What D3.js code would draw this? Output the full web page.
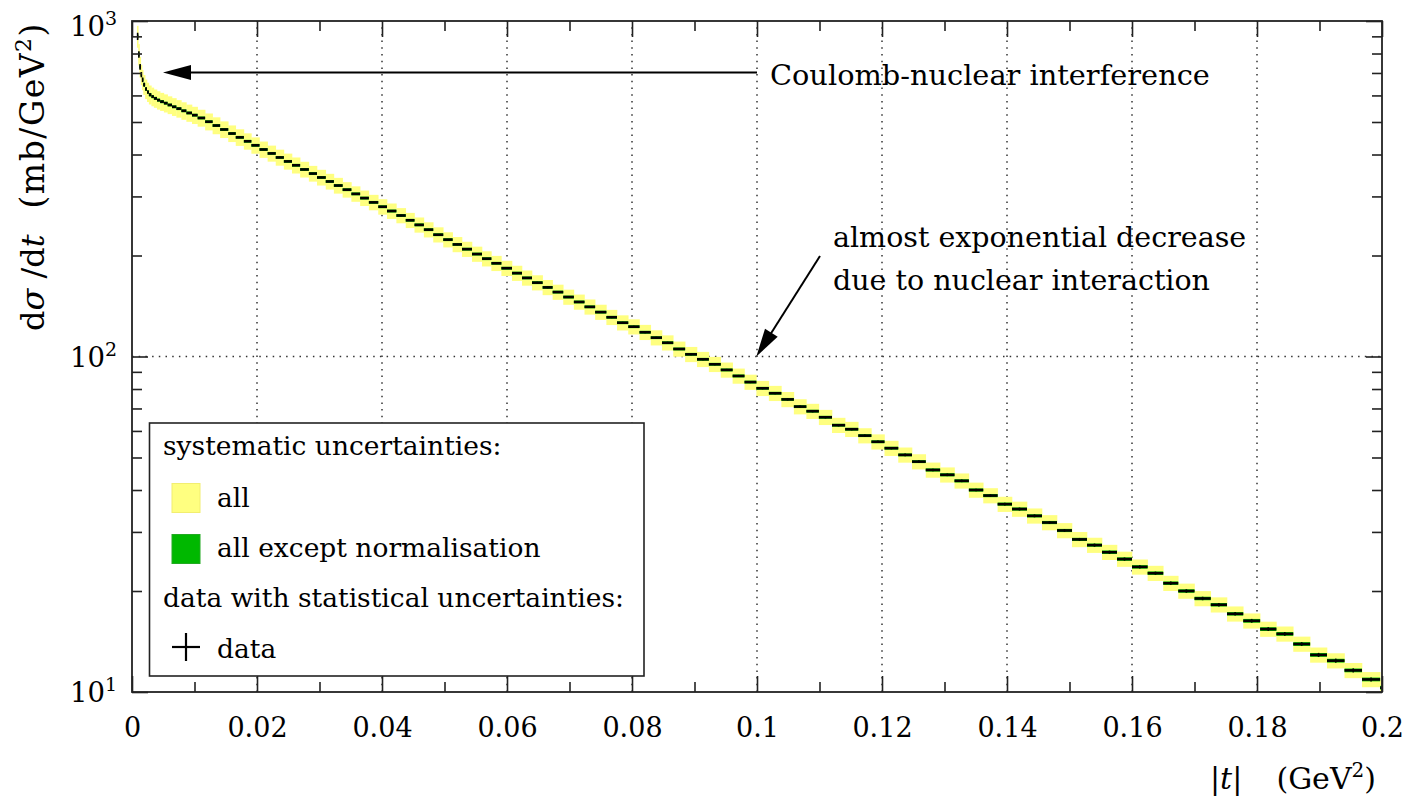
<!DOCTYPE html>
<html>
<head>
<meta charset="utf-8">
<script src="https://cdn.jsdelivr.net/npm/d3@7"></script>
<style>
  body { margin: 0; background: #fff; }
  text { font-family: "DejaVu Serif", serif; fill: #000; }
</style>
</head>
<body>
<svg id="chart" width="1412" height="801"></svg>
<script>
// bin edges in |t| (GeV^2)
var tEdges = [
  0.0008, 0.0010, 0.0012, 0.0014, 0.0016, 0.0018, 0.0021, 0.0024, 0.0027, 0.0031,
  0.0035, 0.0040, 0.0045, 0.0051, 0.0057, 0.0064, 0.0071, 0.0079, 0.0087, 0.0096,
  0.0105, 0.0117, 0.0129, 0.0141, 0.0154, 0.0166, 0.0179, 0.0191, 0.0204, 0.0217,
  0.0230, 0.0243, 0.0256, 0.0269, 0.0283, 0.0296, 0.0310, 0.0323, 0.0337, 0.0351,
  0.0365, 0.0379, 0.0394, 0.0408, 0.0423, 0.0438, 0.0452, 0.0467, 0.0482, 0.0498,
  0.0513, 0.0528, 0.0544, 0.0560, 0.0575, 0.0591, 0.0608, 0.0624, 0.0640, 0.0657,
  0.0673, 0.0690, 0.0707, 0.0724, 0.0741, 0.0759, 0.0776, 0.0794, 0.0812, 0.0830,
  0.0848, 0.0866, 0.0885, 0.0904, 0.0923, 0.0942, 0.0961, 0.0980, 0.0999, 0.1019,
  0.1039, 0.1059, 0.1079, 0.1099, 0.1120, 0.1141, 0.1162, 0.1183, 0.1204, 0.1226,
  0.1248, 0.1270, 0.1293, 0.1316, 0.1339, 0.1362, 0.1385, 0.1408, 0.1432, 0.1456,
  0.1480, 0.1504, 0.1528, 0.1552, 0.1576, 0.1600, 0.1625, 0.1650, 0.1674, 0.1700,
  0.1726, 0.1752, 0.1778, 0.1805, 0.1831, 0.1858, 0.1885, 0.1912, 0.1940, 0.1968,
  0.1997, 0.2025
];

// d sigma / dt per bin (mb/GeV^2)
var dsdt = [
  900, 795, 730, 692, 668, 646, 627, 614, 603, 595,
  588, 581, 575, 569, 562, 555, 548, 540, 532, 524,
  514, 501, 488, 475, 462, 450, 438, 426, 414, 403,
  392, 381.5, 371.5, 361, 351, 341.7, 332.4, 323.3, 314.2, 305.3,
  296.6, 288.0, 279.5, 271.4, 263.2, 254.7, 246.8, 238.8, 230.7, 223.0,
  215.8, 208.9, 202.0, 195.7, 189.6, 183.3, 177.2, 171.5, 166.0, 160.7,
  155.6, 150.4, 145.4, 140.6, 135.6, 130.9, 126.1, 122.7, 118.1, 113.8,
  109.9, 105.3, 101.5, 98.1, 94.8, 91.2, 87.5, 83.9, 80.4, 77.7,
  74.5, 70.9, 68.7, 65.9, 62.4, 60.7, 58.1, 55.7, 53.3, 50.9,
  48.6, 45.9, 44.4, 42.6, 40.0, 38.5, 36.3, 35.1, 33.5, 32.0,
  30.3, 28.5, 27.4, 26.1, 24.9, 23.6, 22.6, 21.1, 20.0, 19.0,
  18.2, 17.1, 16.3, 15.4, 14.9, 13.9, 12.9, 12.4, 11.6, 10.9,
  10.3
];

// systematic uncertainty, all contributions (%)
var sysAll = [
  7.5, 7.3, 7.1, 7.0, 6.9, 6.8, 6.7, 6.6, 6.5, 6.4,
  6.3, 6.3, 6.2, 6.2, 6.1, 6.1, 6.0, 6.0, 5.9, 5.9,
  5.8, 5.8, 5.8, 5.7, 5.7, 5.7, 5.6, 5.6, 5.6, 5.5,
  5.5, 5.5, 5.5, 5.4, 5.4, 5.4, 5.4, 5.4, 5.3, 5.3,
  5.3, 5.3, 5.3, 5.3, 5.2, 5.2, 5.2, 5.2, 5.2, 5.2,
  5.2, 5.2, 5.2, 5.2, 5.2, 5.2, 5.2, 5.2, 5.2, 5.2,
  5.2, 5.2, 5.2, 5.2, 5.2, 5.2, 5.2, 5.2, 5.2, 5.2,
  5.2, 5.2, 5.2, 5.2, 5.2, 5.2, 5.2, 5.2, 5.2, 5.2,
  5.2, 5.2, 5.2, 5.2, 5.2, 5.2, 5.2, 5.2, 5.2, 5.2,
  5.2, 5.2, 5.2, 5.2, 5.2, 5.2, 5.2, 5.2, 5.2, 5.2,
  5.2, 5.2, 5.2, 5.2, 5.2, 5.2, 5.2, 5.2, 5.2, 5.2,
  5.2, 5.2, 5.2, 5.2, 5.2, 5.2, 5.2, 5.2, 5.2, 5.2,
  5.2
];

// systematic uncertainty without normalisation (%)
var sysNoNorm = [
  1.6, 1.5, 1.4, 1.4, 1.3, 1.3, 1.2, 1.2, 1.2, 1.1,
  1.1, 1.1, 1.1, 1.0, 1.0, 1.0, 1.0, 1.0, 1.0, 1.0,
  1.0, 1.0, 1.0, 1.0, 1.0, 1.0, 1.0, 1.0, 1.0, 1.0,
  1.0, 1.0, 1.0, 1.0, 1.0, 1.0, 1.0, 1.0, 1.0, 1.0,
  1.0, 1.0, 1.0, 1.0, 1.0, 1.0, 1.0, 1.0, 1.0, 1.0,
  1.0, 1.0, 1.0, 1.0, 1.0, 1.0, 1.0, 1.0, 1.0, 1.0,
  1.0, 1.0, 1.0, 1.0, 1.0, 1.0, 1.0, 1.0, 1.0, 1.0,
  1.0, 1.0, 1.0, 1.0, 1.0, 1.0, 1.0, 1.0, 1.0, 1.0,
  1.0, 1.0, 1.0, 1.0, 1.0, 1.0, 1.0, 1.0, 1.0, 1.0,
  1.0, 1.1, 1.1, 1.1, 1.1, 1.1, 1.1, 1.1, 1.1, 1.1,
  1.1, 1.1, 1.1, 1.2, 1.2, 1.2, 1.2, 1.2, 1.2, 1.2,
  1.2, 1.2, 1.3, 1.3, 1.3, 1.3, 1.3, 1.3, 1.3, 1.3,
  1.3
];

// statistical uncertainty (%)
var statRel = [
  2.5, 2.2, 2.0, 1.8, 1.6, 1.4, 1.2, 1.1, 1.0, 0.9,
  0.8, 0.7, 0.6, 0.6, 0.5, 0.5, 0.5, 0.5, 0.5, 0.5,
  0.4, 0.4, 0.4, 0.4, 0.4, 0.4, 0.4, 0.4, 0.4, 0.4,
  0.4, 0.4, 0.4, 0.4, 0.4, 0.4, 0.4, 0.4, 0.4, 0.4,
  0.4, 0.4, 0.4, 0.4, 0.5, 0.5, 0.5, 0.5, 0.5, 0.5,
  0.5, 0.5, 0.5, 0.5, 0.5, 0.5, 0.5, 0.5, 0.6, 0.6,
  0.6, 0.6, 0.6, 0.6, 0.6, 0.6, 0.6, 0.6, 0.6, 0.6,
  0.7, 0.7, 0.7, 0.7, 0.7, 0.7, 0.7, 0.7, 0.7, 0.7,
  0.8, 0.8, 0.8, 0.8, 0.8, 0.8, 0.8, 0.8, 0.8, 0.9,
  0.9, 0.9, 0.9, 0.9, 0.9, 0.9, 1.0, 1.0, 1.0, 1.0,
  1.0, 1.0, 1.1, 1.1, 1.1, 1.1, 1.1, 1.2, 1.2, 1.2,
  1.2, 1.2, 1.3, 1.3, 1.3, 1.3, 1.4, 1.4, 1.4, 1.4,
  1.5
];

// axis ticks
var xTicks = [0, 0.02, 0.04, 0.06, 0.08, 0.1, 0.12, 0.14, 0.16, 0.18, 0.2];
var xTickLabels = ["0", "0.02", "0.04", "0.06", "0.08", "0.1", "0.12", "0.14", "0.16", "0.18", "0.2"];
var xMinor = [0.01, 0.03, 0.05, 0.07, 0.09, 0.11, 0.13, 0.15, 0.17, 0.19];
var xGrid = [0.02, 0.04, 0.06, 0.08, 0.1, 0.12, 0.14, 0.16, 0.18];
var yTicks = [10, 100, 1000];
var yTickExp = ["1", "2", "3"];
var yMinor = [20, 30, 40, 50, 60, 70, 80, 90, 200, 300, 400, 500, 600, 700, 800, 900];
var yGrid = [100];

var svg = d3.select("#chart");
var x = d3.scaleLinear().domain([0, 0.2]).range([132, 1382]);
var y = d3.scaleLog().domain([10, 1000]).range([692, 21]);

var bins = dsdt.map(function (v, i) {
  return { lo: tEdges[i], hi: tEdges[i + 1], v: v,
           sa: sysAll[i] / 100, sn: sysNoNorm[i] / 100, st: statRel[i] / 100 };
});

svg.append("defs").append("clipPath").attr("id", "clip")
  .append("rect").attr("x", 132).attr("y", 21).attr("width", 1250).attr("height", 671);

// dotted grid
var grid = svg.append("g").attr("stroke", "#333").attr("stroke-width", 1.5)
  .attr("stroke-dasharray", "1.5,5.2");
grid.selectAll("line.gx").data(xGrid).enter().append("line")
  .attr("x1", function (d) { return x(d); }).attr("x2", function (d) { return x(d); })
  .attr("y1", 692).attr("y2", 21);
grid.selectAll("line.gy").data(yGrid).enter().append("line")
  .attr("y1", function (d) { return y(d); }).attr("y2", function (d) { return y(d); })
  .attr("x1", 132).attr("x2", 1382);

var plot = svg.append("g").attr("clip-path", "url(#clip)");

// yellow: all systematics
plot.selectAll("rect.all").data(bins).enter().append("rect")
  .attr("x", function (d) { return x(d.lo); })
  .attr("width", function (d) { return x(d.hi) - x(d.lo) + 0.3; })
  .attr("y", function (d) { return y(d.v * (1 + d.sa)); })
  .attr("height", function (d) { return y(d.v * (1 - d.sa)) - y(d.v * (1 + d.sa)); })
  .attr("fill", "#ffff80");

// green: all except normalisation
plot.selectAll("rect.nonorm").data(bins).enter().append("rect")
  .attr("x", function (d) { return x(d.lo); })
  .attr("width", function (d) { return x(d.hi) - x(d.lo); })
  .attr("y", function (d) { return y(d.v * (1 + d.sn)); })
  .attr("height", function (d) { return y(d.v * (1 - d.sn)) - y(d.v * (1 + d.sn)); })
  .attr("fill", "#00b800");

// data: bin width + statistical error
plot.selectAll("line.h").data(bins).enter().append("line")
  .attr("x1", function (d) { return x(d.lo); })
  .attr("x2", function (d) { return x(d.hi); })
  .attr("y1", function (d) { return y(d.v); })
  .attr("y2", function (d) { return y(d.v); })
  .attr("stroke", "#000").attr("stroke-width", 2.6);
plot.selectAll("line.v").data(bins).enter().append("line")
  .attr("x1", function (d) { return x((d.lo + d.hi) / 2); })
  .attr("x2", function (d) { return x((d.lo + d.hi) / 2); })
  .attr("y1", function (d) { return y(d.v * (1 + d.st)); })
  .attr("y2", function (d) { return y(d.v * (1 - d.st)); })
  .attr("stroke", "#000").attr("stroke-width", 1.6);

// axes, ticks pointing inwards
function styleAxis(g) {
  g.select(".domain").remove();
  g.selectAll(".tick line").attr("stroke", "#222").attr("stroke-width", 1.6);
  g.selectAll("text").style("font-size", "27px").style("font-family", "DejaVu Serif");
}
svg.append("g").attr("transform", "translate(0,692)")
  .call(d3.axisBottom(x).tickValues(xTicks).tickSize(-16).tickPadding(26)
    .tickFormat(function (d, i) { return xTickLabels[i]; }))
  .call(styleAxis);
svg.append("g").attr("transform", "translate(0,692)")
  .call(d3.axisBottom(x).tickValues(xMinor).tickSize(-10).tickFormat(""))
  .call(styleAxis);
svg.append("g").attr("transform", "translate(0,21)")
  .call(d3.axisTop(x).tickValues(xTicks).tickSize(-16).tickFormat(""))
  .call(styleAxis);
svg.append("g").attr("transform", "translate(0,21)")
  .call(d3.axisTop(x).tickValues(xMinor).tickSize(-10).tickFormat(""))
  .call(styleAxis);
svg.append("g").attr("transform", "translate(132,0)")
  .call(d3.axisLeft(y).tickValues(yTicks).tickSize(-16).tickFormat(""))
  .call(styleAxis);
svg.append("g").attr("transform", "translate(132,0)")
  .call(d3.axisLeft(y).tickValues(yMinor).tickSize(-10).tickFormat(""))
  .call(styleAxis);
svg.append("g").attr("transform", "translate(1382,0)")
  .call(d3.axisRight(y).tickValues(yTicks).tickSize(-16).tickFormat(""))
  .call(styleAxis);
svg.append("g").attr("transform", "translate(1382,0)")
  .call(d3.axisRight(y).tickValues(yMinor).tickSize(-10).tickFormat(""))
  .call(styleAxis);

// y tick labels 10^n
svg.append("g").selectAll("text").data(yTicks).enter().append("text")
  .attr("x", 117)
  .attr("y", function (d) { return Math.max(y(d) + 10, 36); })
  .attr("text-anchor", "end")
  .style("font-size", "27.5px")
  .each(function (d, i) {
    var t = d3.select(this);
    t.append("tspan").text("10");
    t.append("tspan").attr("dy", -11).style("font-size", "19px").text(yTickExp[i]);
  });

// frame
svg.append("rect").attr("x", 132).attr("y", 21).attr("width", 1250).attr("height", 671)
  .attr("fill", "none").attr("stroke", "#222").attr("stroke-width", 1.8);

// axis titles
var xt = svg.append("g").style("font-size", "30px");
xt.append("text").attr("x", 1210).attr("y", 789)
  .html('|<tspan font-style="italic">t</tspan>|');
xt.append("text").attr("x", 1376).attr("y", 789).attr("text-anchor", "end")
  .html('(GeV<tspan dy="-12" style="font-size:20px">2</tspan><tspan dy="12">)</tspan>');

var yt = svg.append("g").attr("transform", "translate(44,0) rotate(-90)").style("font-size", "32px");
yt.append("text").attr("x", -331).attr("y", 0)
  .html('d<tspan font-style="italic">σ</tspan> /d<tspan font-style="italic">t</tspan>');
yt.append("text").attr("x", -22).attr("y", 0).attr("text-anchor", "end")
  .style("font-size", "33px").style("letter-spacing", "1.5px")
  .html('(mb/GeV<tspan dy="-13" style="font-size:22px">2</tspan><tspan dy="13">)</tspan>');

// legend
var lg = svg.append("g");
lg.append("rect").attr("x", 149.5).attr("y", 423).attr("width", 494.5).attr("height", 253)
  .attr("fill", "#fff").attr("stroke", "#222").attr("stroke-width", 1.6);
lg.append("rect").attr("x", 172).attr("y", 483.5).attr("width", 28).attr("height", 29)
  .attr("fill", "#ffff80").attr("stroke", "#f2ee70").attr("stroke-width", 1);
lg.append("rect").attr("x", 172).attr("y", 534.5).attr("width", 28).attr("height", 29)
  .attr("fill", "#00b800").attr("stroke", "#22aa22").attr("stroke-width", 1);
lg.append("line").attr("x1", 172).attr("x2", 200).attr("y1", 647).attr("y2", 647)
  .attr("stroke", "#000").attr("stroke-width", 2.2);
lg.append("line").attr("x1", 186).attr("x2", 186).attr("y1", 633).attr("y2", 661)
  .attr("stroke", "#000").attr("stroke-width", 2.2);
var legendRows = [
  { x: 163, y: 455, t: "systematic uncertainties:" },
  { x: 217, y: 507, t: "all" },
  { x: 217, y: 557, t: "all except normalisation" },
  { x: 163, y: 607, t: "data with statistical uncertainties:" },
  { x: 217, y: 658, t: "data" }
];
lg.selectAll("text").data(legendRows).enter().append("text")
  .attr("x", function (d) { return d.x; }).attr("y", function (d) { return d.y; })
  .style("font-size", "26.5px").text(function (d) { return d.t; });

// annotations with arrows
function arrow(x1, y1, x2, y2) {
  var dx = x2 - x1, dy = y2 - y1, len = Math.sqrt(dx * dx + dy * dy);
  var ux = dx / len, uy = dy / len, hl = 28, hw = 7.5;
  var bx = x2 - ux * hl, by = y2 - uy * hl;
  svg.append("line").attr("x1", x1).attr("y1", y1).attr("x2", bx + ux * 2).attr("y2", by + uy * 2)
    .attr("stroke", "#000").attr("stroke-width", 2);
  svg.append("path")
    .attr("d", "M" + x2 + "," + y2 + "L" + (bx - uy * hw) + "," + (by + ux * hw) +
      "L" + (bx + uy * hw) + "," + (by - ux * hw) + "Z")
    .attr("fill", "#000");
}
arrow(x(0.1), y(702), x(0.00496), y(702));
arrow(820, 256, x(0.0999), y(100));

svg.append("text").attr("x", 770).attr("y", 85).style("font-size", "28.8px")
  .text("Coulomb-nuclear interference");
svg.append("text").attr("x", 833).attr("y", 247).style("font-size", "28.5px")
  .text("almost exponential decrease");
svg.append("text").attr("x", 833).attr("y", 290).style("font-size", "28.5px")
  .text("due to nuclear interaction");
</script>
</body>
</html>
